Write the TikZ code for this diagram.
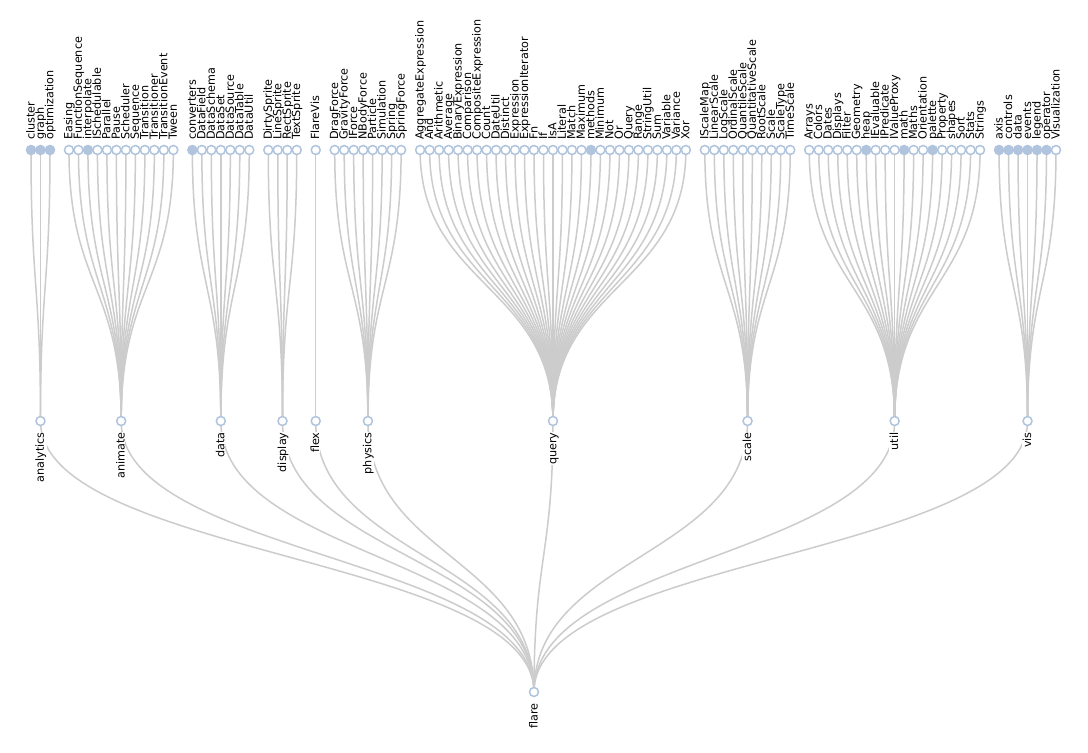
\documentclass[tikz,border=0pt]{standalone}
\usepackage{fontspec}
\setmainfont{DejaVu Sans}
\pgfdeclarelayer{back}
\pgfdeclarelayer{links}
\pgfsetlayers{back,links,main}
\definecolor{nodeblue}{HTML}{B0C4DE}
\definecolor{linkgray}{HTML}{CCCCCC}
\colorlet{F}{nodeblue}
\colorlet{W}{white}
\tikzset{
  dot/.style={circle, draw=nodeblue, line width=1.5pt, minimum size=9pt, inner sep=0pt},
  link/.style={draw=linkgray, line width=1.5pt},
  leaflabel/.style={rotate=90, anchor=base west, inner sep=0pt, font=\fontsize{11.2}{13}\selectfont},
  grouplabel/.style={rotate=90, anchor=base east, inner sep=0.6pt, fill=white, font=\fontsize{11.2}{13}\selectfont},
}
\newcommand\drawgroup[4]{%
  \pgfmathsetmacro\gx{31+#3*9.4907}%
  \node[dot, fill=white] (G-#1) at (\gx,421) {};
  \node[grouplabel] (T-#1) at (\gx+3.5,431.6) {#1};
  \begin{pgfonlayer}{links}
    \draw[link] (R.center) .. controls (R |- M0) and (G-#1 |- M0) .. (G-#1.center);
  \end{pgfonlayer}
  \foreach \n/\f [count=\i from 0] in {#4}{%
    \pgfmathsetmacro\lx{31+(#2+\i)*9.4907}%
    \node[dot, fill=\f] (L-#1-\n) at (\lx,150) {};
    \node[leaflabel] (T-#1-\n) at (\lx+3.5,140) {\n};
    \begin{pgfonlayer}{links}
      \draw[link] (G-#1.center) .. controls (G-#1 |- M1) and (L-#1-\n |- M1) .. (L-#1-\n.center);
    \end{pgfonlayer}
  }%
}
\begin{document}
\begin{tikzpicture}[x=1pt, y=-1pt]
\useasboundingbox (0,0) rectangle (1088,753);
\begin{pgfonlayer}{back}
  \fill[white] (0,0) rectangle (1088,753);
\end{pgfonlayer}
\coordinate (M0) at (0,556.5);
\coordinate (M1) at (0,285.5);
\node[dot, fill=white] (R) at (534,692) {};
\node[grouplabel, fill=none] (T-flare) at (537.5,702.6) {flare};
\drawgroup{analytics}{0}{1}{cluster/F, graph/F, optimization/F}
\drawgroup{animate}{4}{9.5}{Easing/W, FunctionSequence/W, interpolate/F, ISchedulable/W, Parallel/W, Pause/W, Scheduler/W, Sequence/W, Transition/W, Transitioner/W, TransitionEvent/W, Tween/W}
\drawgroup{data}{17}{20}{converters/F, DataField/W, DataSchema/W, DataSet/W, DataSource/W, DataTable/W, DataUtil/W}
\drawgroup{display}{25}{26.5}{DirtySprite/W, LineSprite/W, RectSprite/W, TextSprite/W}
\drawgroup{flex}{30}{30}{FlareVis/W}
\drawgroup{physics}{32}{35.5}{DragForce/W, GravityForce/W, IForce/W, NBodyForce/W, Particle/W, Simulation/W, Spring/W, SpringForce/W}
\drawgroup{query}{41}{55}{AggregateExpression/W, And/W, Arithmetic/W, Average/W, BinaryExpression/W, Comparison/W, CompositeExpression/W, Count/W, DateUtil/W, Distinct/W, Expression/W, ExpressionIterator/W, Fn/W, If/W, IsA/W, Literal/W, Match/W, Maximum/W, methods/F, Minimum/W, Not/W, Or/W, Query/W, Range/W, StringUtil/W, Sum/W, Variable/W, Variance/W, Xor/W}
\drawgroup{scale}{71}{75.5}{IScaleMap/W, LinearScale/W, LogScale/W, OrdinalScale/W, QuantileScale/W, QuantitativeScale/W, RootScale/W, Scale/W, ScaleType/W, TimeScale/W}
\drawgroup{util}{82}{91}{Arrays/W, Colors/W, Dates/W, Displays/W, Filter/W, Geometry/W, heap/F, IEvaluable/W, IPredicate/W, IValueProxy/W, math/F, Maths/W, Orientation/W, palette/F, Property/W, shapes/W, Sort/W, Stats/W, Strings/W}
\drawgroup{vis}{102}{105}{axis/F, controls/F, data/F, events/F, legend/F, operator/F, Visualization/W}
\end{tikzpicture}
\end{document}
